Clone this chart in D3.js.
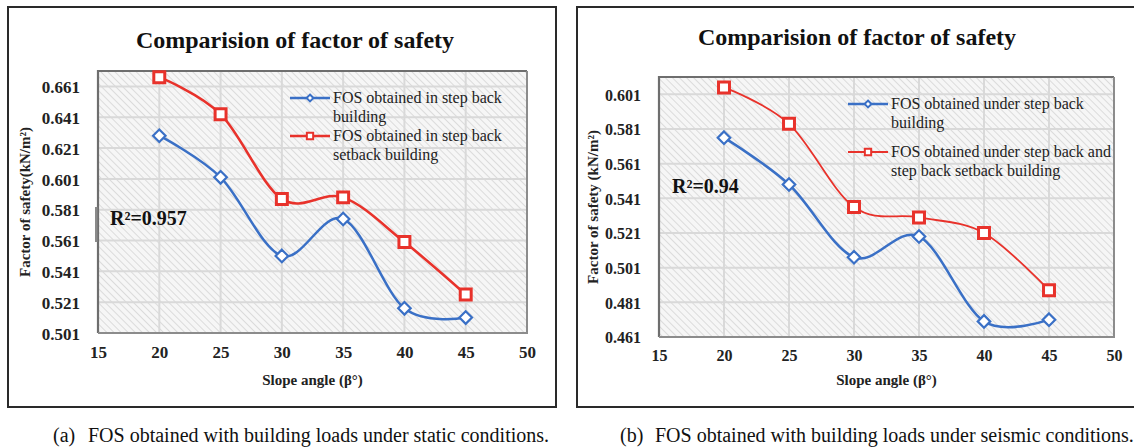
<!DOCTYPE html>
<html>
<head>
<meta charset="utf-8">
<script src="https://cdn.jsdelivr.net/npm/d3@7"></script>
<style>
  html, body { margin: 0; padding: 0; background: #ffffff; }
  svg { display: block; }
  svg text { font-family: "Liberation Serif", "Times New Roman", serif; }
</style>
</head>
<body>
<svg id="fig" width="1134" height="448"></svg>
<script>
// Slope angles (degrees) at which the factor of safety was evaluated
const slopeAngles = [20, 25, 30, 35, 40, 45];

// Static conditions
const staticStepBack = [0.629, 0.602, 0.551, 0.575, 0.517, 0.511];
const staticSetback  = [0.667, 0.643, 0.588, 0.589, 0.560, 0.526];

// Seismic conditions
const seismicStepBack = [0.576, 0.549, 0.507, 0.519, 0.470, 0.471];
const seismicSetback  = [0.605, 0.584, 0.536, 0.530, 0.521, 0.488];

// Axis ticks
const xTicks = [15, 20, 25, 30, 35, 40, 45, 50];
const staticYTicks  = [0.501, 0.521, 0.541, 0.561, 0.581, 0.601, 0.621, 0.641, 0.661];
const seismicYTicks = [0.461, 0.481, 0.501, 0.521, 0.541, 0.561, 0.581, 0.601];

const BLUE = "#3a70c6";
const RED = "#e8322b";
const SERIF = "'Liberation Serif', 'Times New Roman', serif";

const svg = d3.select("#fig");

// Diagonal hatch used as the plot-area fill
const defs = svg.append("defs");
const pat = defs.append("pattern")
  .attr("id", "hatch")
  .attr("patternUnits", "userSpaceOnUse")
  .attr("width", 5).attr("height", 5)
  .attr("patternTransform", "rotate(-45)");
pat.append("rect").attr("width", 5).attr("height", 5).attr("fill", "#f6f6f6");
pat.append("line").attr("x1", 0).attr("y1", 0).attr("x2", 0).attr("y2", 5)
  .attr("stroke", "#d4d4d4").attr("stroke-width", 1.6);

function drawPanel(cfg) {
  const g = svg.append("g");

  // outer frame
  g.append("rect")
    .attr("x", cfg.box[0]).attr("y", cfg.box[1])
    .attr("width", cfg.box[2]).attr("height", cfg.box[3])
    .attr("fill", "#fff").attr("stroke", "#2a2a2a").attr("stroke-width", 2);

  const x = d3.scaleLinear().domain([15, 50]).range([cfg.plot.left, cfg.plot.right]);
  const y = d3.scaleLinear().domain(cfg.yDomain).range([cfg.plot.bottom, cfg.plot.top]);
  const L = cfg.plot.left, R = cfg.plot.right, T = cfg.plot.top, B = cfg.plot.bottom;

  // plot area
  g.append("rect")
    .attr("x", L).attr("y", T).attr("width", R - L).attr("height", B - T)
    .attr("fill", "url(#hatch)");

  // gridlines
  const grid = g.append("g").attr("stroke", "#d9d9d9").attr("stroke-width", 2);
  grid.selectAll("line.h").data(cfg.yTicks).join("line")
    .attr("x1", L).attr("x2", R)
    .attr("y1", d => y(d)).attr("y2", d => y(d));
  grid.selectAll("line.v").data(xTicks).join("line")
    .attr("y1", T).attr("y2", B)
    .attr("x1", d => x(d)).attr("x2", d => x(d));

  // plot border: darker top/left, lighter bottom/right
  g.append("path").attr("d", `M${L},${B}V${T}H${R}`)
    .attr("fill", "none").attr("stroke", "#6e6e6e").attr("stroke-width", 2.2);
  g.append("path").attr("d", `M${R},${T}V${B}H${L}`)
    .attr("fill", "none").attr("stroke", "#8c8c8c").attr("stroke-width", 2);

  // axes (labels only, lines drawn by the frame)
  const xAxis = g.append("g")
    .attr("transform", `translate(0,${B + 10})`)
    .call(d3.axisBottom(x).tickValues(xTicks).tickSize(0).tickFormat(d3.format("d")));
  xAxis.select(".domain").remove();
  xAxis.attr("font-family", SERIF);
  xAxis.selectAll("text")
    .style("font-family", SERIF).attr("font-weight", "bold")
    .attr("font-size", cfg.tickSize).attr("fill", "#222").attr("dy", "0.71em");

  const yAxis = g.append("g")
    .attr("transform", `translate(${L - 15},0)`)
    .call(d3.axisLeft(y).tickValues(cfg.yTicks).tickSize(0).tickFormat(d3.format(".3f")));
  yAxis.select(".domain").remove();
  yAxis.attr("font-family", SERIF);
  yAxis.selectAll("text")
    .style("font-family", SERIF).attr("font-weight", "bold")
    .attr("font-size", cfg.tickSize).attr("fill", "#222").attr("dy", "0.36em");

  // titles
  g.append("text")
    .attr("x", cfg.titleX).attr("y", cfg.titleY)
    .attr("text-anchor", "middle").attr("font-weight", "bold").attr("font-size", 24)
    .attr("fill", "#111").text("Comparision of factor of safety");

  g.append("text")
    .attr("x", (L + R) / 2).attr("y", 385)
    .attr("text-anchor", "middle").attr("font-weight", "bold").attr("font-size", 15)
    .attr("fill", "#222").text("Slope angle (β°)");

  g.append("text")
    .attr("transform", `translate(${cfg.yTitleX},${cfg.yTitleY}) rotate(-90)`)
    .attr("text-anchor", "middle").attr("font-weight", "bold").attr("font-size", 15)
    .attr("fill", "#222").text(cfg.yTitle);

  // fitted-correlation note
  if (cfg.noteBar) {
    g.append("rect").attr("x", cfg.noteBar[0]).attr("y", cfg.noteBar[1])
      .attr("width", 2.5).attr("height", cfg.noteBar[2]).attr("fill", "#8a8a8a");
  }
  g.append("text")
    .attr("x", cfg.noteX).attr("y", cfg.noteY)
    .attr("font-weight", "bold").attr("font-size", 20).attr("fill", "#111")
    .text(cfg.note);

  const line = d3.line()
    .x((d, i) => x(slopeAngles[i]))
    .y(d => y(d))
    .curve(d3.curveCatmullRom.alpha(0));

  // series
  cfg.series.forEach(s => {
    g.append("path").datum(s.values)
      .attr("d", line).attr("fill", "none")
      .attr("stroke", s.color).attr("stroke-width", s.width);
    const sym = s.shape === "square" ? d3.symbolSquare : d3.symbolDiamond2;
    const sz = s.shape === "square" ? 120 : 100;
    g.selectAll(null).data(s.values).join("path")
      .attr("transform", (d, i) => `translate(${x(slopeAngles[i])},${y(d)})`)
      .attr("d", d3.symbol(sym, sz))
      .attr("fill", "#fff").attr("stroke", s.color)
      .attr("stroke-width", s.shape === "square" ? 3 : 2.2);
  });

  // legend
  cfg.series.forEach((s, k) => {
    const ly = cfg.legend.y[k];
    const lg = g.append("g");
    lg.append("line")
      .attr("x1", cfg.legend.x).attr("x2", cfg.legend.x + 40)
      .attr("y1", ly).attr("y2", ly)
      .attr("stroke", s.color).attr("stroke-width", s.width);
    const sym = s.shape === "square" ? d3.symbolSquare : d3.symbolDiamond2;
    lg.append("path")
      .attr("transform", `translate(${cfg.legend.x + 20},${ly})`)
      .attr("d", d3.symbol(sym, s.shape === "square" ? 40 : 30))
      .attr("fill", "#fff").attr("stroke", s.color).attr("stroke-width", 2);
    s.label.forEach((t, j) => {
      lg.append("text")
        .attr("x", cfg.legend.x + 43).attr("y", ly + 5 + j * 19)
        .attr("font-size", 16).attr("fill", "#222").text(t);
    });
  });

  // caption
  g.append("text")
    .attr("x", cfg.captionX).attr("y", 442)
    .attr("font-size", 20).attr("fill", "#111")
    .text(cfg.captionTag);
  g.append("text")
    .attr("x", cfg.captionX + 35).attr("y", 442)
    .attr("font-size", 20).attr("fill", "#111")
    .text(cfg.caption);
}

drawPanel({
  box: [8, 7, 548, 400],
  plot: { left: 98, right: 527, top: 71, bottom: 333 },
  yDomain: [0.501, 0.671],
  yTicks: staticYTicks,
  tickSize: 17,
  titleX: 295, titleY: 48,
  yTitle: "Factor of safety(kN/m²)", yTitleX: 30, yTitleY: 202,
  note: "R²=0.957", noteX: 110, noteY: 225, noteBar: [95, 207, 35],
  series: [
    { values: staticStepBack, color: BLUE, width: 2.5, shape: "diamond",
      label: ["FOS obtained in step back", "building"] },
    { values: staticSetback, color: RED, width: 2.6, shape: "square",
      label: ["FOS obtained in step back", "setback building"] }
  ],
  legend: { x: 290, y: [98, 136] },
  captionX: 53, captionTag: "(a)",
  caption: "FOS obtained with building loads under static conditions."
});

drawPanel({
  box: [577, 7, 570, 400],
  plot: { left: 659, right: 1114, top: 77, bottom: 337 },
  yDomain: [0.461, 0.611],
  yTicks: seismicYTicks,
  tickSize: 16,
  titleX: 857, titleY: 45,
  yTitle: "Factor of safety (kN/m²)", yTitleX: 598, yTitleY: 207,
  note: "R²=0.94", noteX: 672, noteY: 193, noteBar: null,
  series: [
    { values: seismicStepBack, color: BLUE, width: 2.5, shape: "diamond",
      label: ["FOS obtained under step back", "building"] },
    { values: seismicSetback, color: RED, width: 1.8, shape: "square",
      label: ["FOS obtained under step back and", "step back setback building"] }
  ],
  legend: { x: 848, y: [104, 152] },
  captionX: 620, captionTag: "(b)",
  caption: "FOS obtained with building loads under seismic conditions."
});
</script>
</body>
</html>
